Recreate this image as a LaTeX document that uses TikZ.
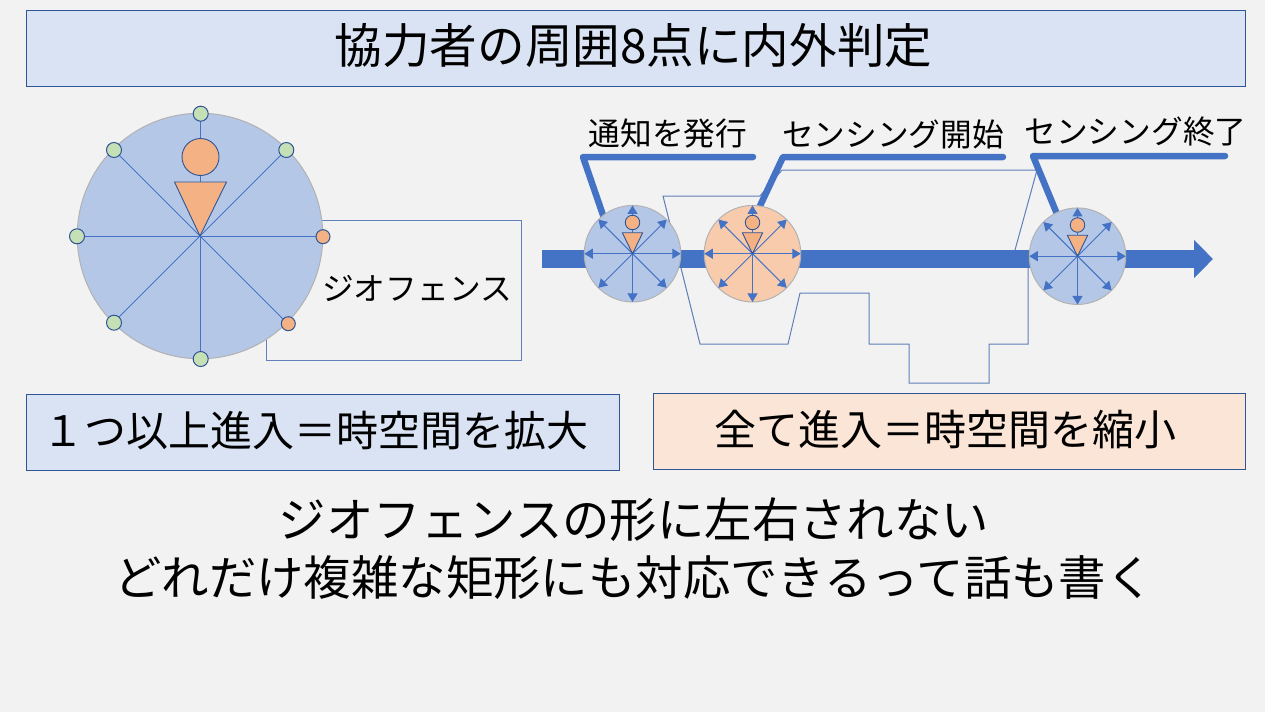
\documentclass[tikz,border=0pt]{standalone}
\usepackage{fontspec}
\setmainfont{Noto Sans CJK JP}
\usetikzlibrary{arrows.meta, positioning}
\definecolor{pagegray}{HTML}{F2F2F2}
\definecolor{linkblue}{HTML}{4472C4}
\definecolor{edgeblue}{HTML}{2F5597}
\definecolor{fenceblue}{HTML}{5F80B8}
\definecolor{circleblue}{HTML}{B4C7E7}
\definecolor{boxblue}{HTML}{DAE3F3}
\definecolor{boxorange}{HTML}{FBE5D6}
\definecolor{circleorange}{HTML}{F8CBAD}
\definecolor{personorange}{HTML}{F4B183}
\definecolor{pointgreen}{HTML}{C5E0B4}
\tikzset{>=stealth,
  banner/.style={draw=edgeblue, line width=0.7pt, minimum height=76.5pt, inner sep=0pt},
  area/.style={circle, draw=black!30, line width=1pt, fill=circleblue, inner sep=0pt, outer sep=0pt},
  sensor/.style={area, minimum size=96.5pt},
  okpoint/.style={circle, draw=edgeblue, line width=1pt, fill=pointgreen, inner sep=0pt, minimum size=15pt},
  ngpoint/.style={okpoint, fill=personorange, minimum size=14pt},
  person/.style={draw=edgeblue, line width=0.9pt, fill=personorange},
  spoke/.style={draw=linkblue, line width=1pt},
  fence/.style={draw=fenceblue, line width=1pt},
  callout/.style={draw=linkblue, line width=6.5pt, line cap=round, line join=round},
  talk/.style={font=\fontsize{31.7pt}{36pt}\selectfont, inner sep=0pt},
  big/.style={font=\fontsize{47.4pt}{58pt}\selectfont, inner sep=0pt, align=center}
}
\begin{document}
\begin{tikzpicture}[x=1pt, y=-1pt]
    \useasboundingbox (0,0) rectangle (1265,712);
    \fill[pagegray] (0,0) rectangle (1265,712);

    % title and captions
    \node[banner, fill=boxblue, minimum width=1219.5pt] (title) at (636,48.3) {};
    \node[inner sep=0pt, font=\fontsize{47.6pt}{50pt}\selectfont] (titletext) at (633.5,46) {協力者の周囲8点に内外判定};
    \node[banner, fill=boxblue, minimum width=593.5pt] (boxone) at (322.8,432.3) {};
    \node[inner sep=0pt, font=\fontsize{42pt}{46pt}\selectfont] (boxonetext) at (315,431) {１つ以上進入＝時空間を拡大};
    \node[banner, fill=boxorange, minimum width=592.5pt] (boxall) at (949.3,431.3) {};
    \node[inner sep=0pt, font=\fontsize{42pt}{46pt}\selectfont] (boxalltext) at (945,430) {全て進入＝時空間を縮小};
    \node[big] (note) at (634,549) {ジオフェンスの形に左右されない\\どれだけ複雑な矩形にも対応できるって話も書く};

    % left figure
    \coordinate (fa) at (322,220.5);
    \coordinate (fb) at (521.5,220.5);
    \coordinate (fc) at (521.5,360);
    \coordinate (fd) at (266,360);
    \coordinate (fe) at (266,340);
    \draw[fence] (fa) -- (fb) -- (fc) -- (fd) -- (fe);
    \node[area, minimum size=245.5pt] (zone) at (200,236) {};
    \foreach \ang in {0,45,...,315}
        \draw[spoke] (zone.center) -- (zone.\ang);
    \node[circle, person, inner sep=0pt, minimum width=37pt] (head) at (200.5,157) {};
    \draw[person, line join=round] (174.5,182) -- (226.5,182) -- (zone.center) -- cycle;
    \node[okpoint] (p1) at (200.7,113.7) {};
    \node[okpoint] (p2) at (286.3,150) {};
    \node[ngpoint] (p3) at (323,236.7) {};
    \node[ngpoint] (p4) at (288.3,323.7) {};
    \node[okpoint] (p5) at (200.7,359) {};
    \node[okpoint] (p6) at (114,322.7) {};
    \node[okpoint] (p7) at (77,236.3) {};
    \node[okpoint] (p8) at (114,150) {};
    \node[talk, anchor=west] (fencetext) at (322,288) {ジオフェンス};

    % right figure
    \coordinate (g1) at (663,196);
    \coordinate (g2) at (700,344);
    \coordinate (g3) at (788,344);
    \coordinate (g4) at (800,293);
    \coordinate (g5) at (869,293);
    \coordinate (g6) at (869,344);
    \coordinate (g7) at (909,344);
    \coordinate (g8) at (909,383);
    \coordinate (g9) at (989,383);
    \coordinate (g10) at (989,344);
    \coordinate (g11) at (1028,344);
    \coordinate (g12) at (1028,259);
    \coordinate (g13) at (1015,250);
    \coordinate (g14) at (1037,170);
    \coordinate (g15) at (782,170);
    \coordinate (g16) at (760,196);
    \draw[fence] (g1) -- (g2) -- (g3) -- (g4) -- (g5) -- (g6) -- (g7) -- (g8) -- (g9) -- (g10) -- (g11) -- (g12) -- (g13) -- (g14) -- (g15) -- (g16) -- cycle;

    \coordinate (timestart) at (542,259);
    \coordinate (timeend) at (1213,259);
    \draw[-{Triangle[length=19pt, width=37pt]}, draw=linkblue, fill=linkblue, line width=18pt] (timestart) -- (timeend);

    \coordinate (n1) at (753,157);
    \coordinate (n2) at (583,157);
    \coordinate (n3) at (604,218);
    \draw[callout] (n1) -- (n2) -- (n3);
    \coordinate (b1) at (1003,157);
    \coordinate (b2) at (783,157);
    \coordinate (b3) at (759,208);
    \draw[callout] (b1) -- (b2) -- (b3);
    \coordinate (e1) at (1225,156);
    \coordinate (e2) at (1033,156);
    \coordinate (e3) at (1057,214);
    \draw[callout] (e1) -- (e2) -- (e3);

    \node[sensor] (s1) at (632.5,253.7) {};
    \node[sensor, fill=circleorange] (s2) at (752.5,253.7) {};
    \node[sensor] (s3) at (1077.5,256.2) {};
    \foreach \sname in {s1,s2,s3} {
        \foreach \ang in {0,45,...,315}
            \draw[spoke, -{Triangle[length=8.5pt, width=10pt]}, fill=linkblue] (\sname.center) -- (\sname.\ang);
        \node[circle, person, inner sep=0pt, minimum size=14.5pt, above=23.5pt of \sname.center] (\sname head) {};
        \draw[person, line join=round] ([shift={(-10.2,-21)}]\sname.center) -- ([shift={(10.2,-21)}]\sname.center) -- (\sname.center) -- cycle;
    }

    \node[talk] (notifytext) at (668,134) {通知を発行};
    \node[talk] (starttext) at (893,134) {センシング開始};
    \node[talk] (stoptext) at (1135.5,132) {センシング終了};
\end{tikzpicture}
\end{document}
